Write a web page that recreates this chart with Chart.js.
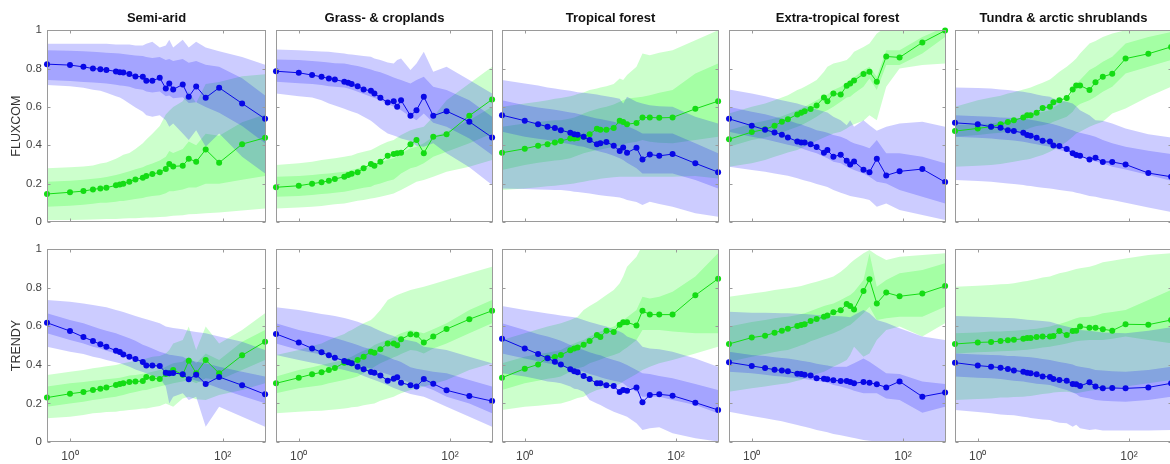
<!DOCTYPE html>
<html><head><meta charset="utf-8">
<script src="https://cdn.jsdelivr.net/npm/chart.js@4.4.1/dist/chart.umd.min.js"></script>
<style>
html,body{margin:0;padding:0;background:#fff;width:1170px;height:464px;overflow:hidden;position:relative}
canvas{position:absolute;display:block}
</style></head><body>
<script>
// ---------- shared axes ----------
const xValues = [0.5,1,1.5,2,2.5,3,4,4.5,5,6,7.2,9,10,12,15,18,20,22.5,30,36,45,60,90,180,360];
const xTickValues = [1,100];
const xTickLabels = ['10⁰','10²'];
const yTickValues = [0,0.2,0.4,0.6,0.8,1];
const yTickLabels = ['0','0.2','0.4','0.6','0.8','1'];
const columnTitles = ['Semi-arid','Grass- & croplands','Tropical forest','Extra-tropical forest','Tundra & arctic shrublands'];
const rowTitles = ['FLUXCOM','TRENDY'];

// ---------- FLUXCOM : Semi-arid ----------
const flux_semi_blue = [0.823,0.818,0.809,0.800,0.797,0.793,0.785,0.781,0.780,0.771,0.759,0.757,0.736,0.736,0.752,0.696,0.722,0.691,0.717,0.653,0.707,0.648,0.700,0.618,0.538];
const flux_semi_green = [0.146,0.155,0.161,0.170,0.175,0.179,0.191,0.196,0.200,0.210,0.222,0.231,0.240,0.250,0.259,0.276,0.302,0.290,0.293,0.330,0.314,0.378,0.309,0.406,0.439];
const flux_semi_blueOutLo = [0.714,0.708,0.700,0.690,0.684,0.674,0.656,0.649,0.639,0.618,0.597,0.575,0.557,0.549,0.557,0.530,0.497,0.514,0.462,0.427,0.479,0.392,0.462,0.340,0.253];
const flux_semi_blueOutHi = [0.930,0.930,0.930,0.930,0.930,0.930,0.925,0.925,0.925,0.925,0.920,0.920,0.930,0.940,0.910,0.920,0.950,0.910,0.950,0.910,0.940,0.910,0.890,0.860,0.820];
const flux_semi_blueInLo = [0.740,0.735,0.730,0.727,0.725,0.722,0.715,0.712,0.710,0.705,0.695,0.690,0.680,0.675,0.680,0.655,0.660,0.645,0.650,0.620,0.625,0.600,0.570,0.500,0.410];
const flux_semi_blueInHi = [0.895,0.893,0.890,0.887,0.885,0.883,0.880,0.878,0.876,0.872,0.868,0.865,0.860,0.855,0.860,0.845,0.850,0.840,0.850,0.830,0.840,0.820,0.810,0.750,0.660];
const flux_semi_greenOutLo = [0.010,0.010,0.012,0.013,0.014,0.015,0.016,0.017,0.018,0.019,0.020,0.022,0.023,0.024,0.026,0.028,0.030,0.032,0.035,0.040,0.042,0.045,0.050,0.060,0.070];
const flux_semi_greenOutHi = [0.280,0.285,0.290,0.295,0.305,0.310,0.330,0.340,0.350,0.360,0.380,0.410,0.430,0.460,0.500,0.560,0.580,0.600,0.630,0.680,0.620,0.720,0.730,0.760,0.770];
const flux_semi_greenInLo = [0.080,0.085,0.090,0.095,0.100,0.100,0.105,0.110,0.110,0.115,0.120,0.125,0.130,0.135,0.140,0.150,0.160,0.160,0.170,0.180,0.180,0.200,0.200,0.220,0.240];
const flux_semi_greenInHi = [0.210,0.215,0.220,0.225,0.230,0.235,0.245,0.250,0.255,0.265,0.275,0.285,0.295,0.305,0.320,0.340,0.370,0.360,0.380,0.420,0.400,0.460,0.450,0.520,0.560];

// ---------- FLUXCOM : Grass- & croplands ----------
const flux_grass_blue = [0.786,0.778,0.766,0.757,0.748,0.743,0.731,0.726,0.719,0.708,0.691,0.684,0.670,0.648,0.623,0.630,0.601,0.635,0.554,0.583,0.653,0.554,0.578,0.523,0.441];
const flux_grass_green = [0.181,0.189,0.200,0.207,0.215,0.224,0.236,0.245,0.252,0.260,0.280,0.302,0.293,0.314,0.345,0.354,0.359,0.361,0.406,0.427,0.359,0.444,0.457,0.554,0.639];
const flux_grass_blueOutLo = [0.670,0.656,0.649,0.635,0.618,0.608,0.590,0.583,0.576,0.566,0.549,0.528,0.514,0.488,0.462,0.451,0.444,0.436,0.422,0.398,0.392,0.410,0.358,0.285,0.193];
const flux_grass_blueOutHi = [0.899,0.896,0.892,0.889,0.887,0.884,0.878,0.875,0.873,0.870,0.865,0.861,0.852,0.844,0.832,0.826,0.844,0.852,0.792,0.826,0.887,0.783,0.809,0.740,0.670];
const flux_grass_blueInLo = [0.731,0.724,0.719,0.714,0.708,0.705,0.701,0.696,0.691,0.679,0.667,0.653,0.646,0.635,0.615,0.601,0.592,0.583,0.549,0.531,0.566,0.517,0.497,0.436,0.349];
const flux_grass_blueInHi = [0.847,0.844,0.840,0.835,0.832,0.828,0.826,0.823,0.819,0.813,0.806,0.795,0.788,0.781,0.766,0.753,0.747,0.740,0.722,0.740,0.757,0.705,0.688,0.635,0.549];
const flux_grass_greenOutLo = [0.071,0.076,0.080,0.083,0.089,0.092,0.097,0.101,0.104,0.111,0.115,0.122,0.125,0.132,0.141,0.149,0.158,0.167,0.193,0.210,0.219,0.236,0.262,0.288,0.323];
const flux_grass_greenOutHi = [0.297,0.306,0.314,0.323,0.328,0.333,0.340,0.344,0.347,0.358,0.366,0.375,0.384,0.401,0.418,0.427,0.441,0.453,0.479,0.488,0.497,0.549,0.635,0.722,0.809];
const flux_grass_greenInLo = [0.132,0.135,0.141,0.146,0.149,0.153,0.158,0.161,0.165,0.172,0.179,0.184,0.193,0.201,0.214,0.222,0.236,0.253,0.280,0.288,0.306,0.340,0.366,0.410,0.462];
const flux_grass_greenInHi = [0.236,0.240,0.245,0.250,0.253,0.257,0.262,0.266,0.271,0.279,0.285,0.288,0.297,0.309,0.326,0.333,0.344,0.358,0.384,0.392,0.410,0.444,0.470,0.531,0.601];

// ---------- FLUXCOM : Tropical forest ----------
const flux_trop_blue = [0.557,0.528,0.510,0.497,0.490,0.479,0.465,0.457,0.455,0.444,0.427,0.406,0.411,0.417,0.398,0.370,0.389,0.361,0.387,0.326,0.352,0.345,0.354,0.306,0.260];
const flux_trop_green = [0.361,0.382,0.398,0.406,0.415,0.422,0.436,0.436,0.438,0.444,0.458,0.486,0.481,0.481,0.490,0.528,0.521,0.510,0.516,0.545,0.545,0.543,0.545,0.590,0.630];
const flux_trop_blueOutLo = [0.175,0.172,0.170,0.168,0.167,0.167,0.161,0.158,0.156,0.153,0.149,0.142,0.139,0.135,0.132,0.128,0.122,0.115,0.104,0.089,0.106,0.094,0.080,0.045,0.028];
const flux_trop_blueOutHi = [0.740,0.722,0.712,0.701,0.696,0.691,0.684,0.681,0.677,0.674,0.670,0.665,0.661,0.656,0.649,0.642,0.618,0.653,0.627,0.618,0.609,0.604,0.601,0.549,0.514];
const flux_trop_blueInLo = [0.470,0.444,0.434,0.427,0.420,0.415,0.406,0.401,0.396,0.392,0.382,0.372,0.366,0.358,0.345,0.332,0.323,0.309,0.280,0.253,0.253,0.253,0.253,0.219,0.175];
const flux_trop_blueInHi = [0.635,0.609,0.597,0.590,0.585,0.580,0.571,0.568,0.564,0.557,0.549,0.540,0.537,0.531,0.523,0.514,0.509,0.500,0.479,0.462,0.462,0.462,0.462,0.410,0.358];
const flux_trop_greenOutLo = [0.167,0.175,0.181,0.186,0.189,0.193,0.198,0.201,0.205,0.210,0.217,0.222,0.226,0.229,0.233,0.236,0.236,0.236,0.236,0.236,0.236,0.236,0.236,0.240,0.227];
const flux_trop_greenOutHi = [0.601,0.618,0.627,0.635,0.642,0.646,0.656,0.661,0.667,0.675,0.688,0.696,0.701,0.708,0.719,0.748,0.740,0.766,0.809,0.878,0.870,0.882,0.896,0.948,1.000];
const flux_trop_greenInLo = [0.271,0.297,0.309,0.316,0.321,0.323,0.333,0.340,0.347,0.358,0.366,0.375,0.378,0.384,0.392,0.399,0.406,0.410,0.418,0.427,0.418,0.413,0.410,0.427,0.444];
const flux_trop_greenInHi = [0.497,0.514,0.521,0.526,0.530,0.531,0.540,0.545,0.552,0.566,0.578,0.589,0.595,0.601,0.613,0.627,0.635,0.644,0.649,0.653,0.661,0.674,0.688,0.774,0.826];

// ---------- FLUXCOM : Extra-tropical forest ----------
const flux_extra_blue = [0.538,0.502,0.481,0.467,0.455,0.441,0.420,0.415,0.415,0.406,0.391,0.361,0.375,0.340,0.351,0.319,0.300,0.316,0.273,0.260,0.330,0.243,0.264,0.276,0.208];
const flux_extra_green = [0.431,0.469,0.483,0.502,0.523,0.536,0.561,0.569,0.578,0.589,0.608,0.649,0.630,0.670,0.665,0.710,0.722,0.738,0.771,0.783,0.731,0.863,0.858,0.936,0.998];
const flux_extra_blueOutLo = [0.288,0.271,0.262,0.253,0.247,0.241,0.228,0.222,0.217,0.208,0.198,0.188,0.182,0.167,0.153,0.142,0.135,0.132,0.123,0.115,0.080,0.097,0.063,0.036,0.010];
const flux_extra_blueOutHi = [0.691,0.670,0.656,0.644,0.635,0.628,0.618,0.611,0.606,0.597,0.587,0.576,0.571,0.549,0.531,0.505,0.531,0.497,0.531,0.505,0.476,0.497,0.514,0.523,0.497];
const flux_extra_blueInLo = [0.470,0.444,0.431,0.420,0.410,0.403,0.392,0.384,0.378,0.368,0.358,0.340,0.332,0.314,0.306,0.288,0.280,0.271,0.253,0.236,0.210,0.201,0.167,0.132,0.097];
const flux_extra_blueInHi = [0.601,0.575,0.562,0.549,0.540,0.531,0.514,0.509,0.502,0.491,0.479,0.470,0.465,0.453,0.444,0.431,0.420,0.410,0.396,0.384,0.427,0.358,0.358,0.340,0.306];
const flux_extra_greenOutLo = [0.288,0.306,0.323,0.340,0.352,0.363,0.375,0.384,0.392,0.406,0.424,0.441,0.448,0.462,0.470,0.488,0.500,0.510,0.528,0.557,0.531,0.705,0.800,0.818,0.826];
const flux_extra_greenOutHi = [0.566,0.601,0.618,0.635,0.649,0.661,0.688,0.696,0.705,0.722,0.740,0.783,0.809,0.826,0.835,0.844,0.861,0.887,0.913,0.931,0.983,1.017,1.035,1.052,1.052];
const flux_extra_greenInLo = [0.392,0.427,0.441,0.453,0.467,0.479,0.497,0.505,0.514,0.531,0.549,0.575,0.583,0.601,0.627,0.649,0.653,0.670,0.705,0.748,0.688,0.818,0.818,0.878,0.965];
const flux_extra_greenInHi = [0.479,0.514,0.528,0.540,0.552,0.563,0.583,0.592,0.601,0.618,0.635,0.656,0.665,0.688,0.705,0.726,0.740,0.753,0.792,0.809,0.757,0.896,0.896,0.965,1.017];

// ---------- FLUXCOM : Tundra & arctic shrublands ----------
const flux_tundra_blue = [0.517,0.509,0.497,0.491,0.479,0.474,0.465,0.453,0.450,0.439,0.424,0.420,0.399,0.396,0.380,0.358,0.349,0.345,0.326,0.335,0.313,0.313,0.300,0.255,0.236];
const flux_tundra_green = [0.474,0.488,0.497,0.510,0.521,0.530,0.545,0.556,0.557,0.569,0.595,0.601,0.625,0.635,0.646,0.691,0.712,0.712,0.688,0.729,0.757,0.773,0.852,0.877,0.913];
const flux_tundra_blueOutLo = [0.219,0.214,0.210,0.205,0.201,0.198,0.193,0.189,0.188,0.182,0.179,0.175,0.172,0.167,0.161,0.158,0.153,0.149,0.135,0.132,0.123,0.115,0.101,0.076,0.052];
const flux_tundra_blueOutHi = [0.701,0.698,0.696,0.691,0.688,0.684,0.679,0.675,0.672,0.665,0.658,0.653,0.644,0.635,0.627,0.618,0.604,0.583,0.557,0.531,0.528,0.514,0.488,0.458,0.441];
const flux_tundra_blueInLo = [0.444,0.439,0.436,0.430,0.427,0.425,0.418,0.415,0.411,0.406,0.399,0.392,0.387,0.375,0.366,0.358,0.349,0.344,0.326,0.316,0.306,0.288,0.274,0.245,0.215];
const flux_tundra_blueInHi = [0.557,0.552,0.549,0.545,0.543,0.542,0.540,0.536,0.533,0.528,0.521,0.514,0.510,0.500,0.488,0.479,0.470,0.465,0.453,0.444,0.427,0.410,0.392,0.372,0.354];
const flux_tundra_greenOutLo = [0.288,0.293,0.297,0.302,0.309,0.314,0.323,0.326,0.330,0.340,0.349,0.366,0.375,0.392,0.418,0.444,0.462,0.470,0.497,0.510,0.523,0.566,0.592,0.653,0.705];
const flux_tundra_greenOutHi = [0.601,0.635,0.649,0.658,0.670,0.677,0.691,0.696,0.701,0.714,0.726,0.743,0.757,0.783,0.809,0.835,0.852,0.878,0.931,0.944,0.965,0.983,1.000,1.003,1.009];
const flux_tundra_greenInLo = [0.444,0.453,0.462,0.465,0.470,0.474,0.479,0.484,0.491,0.500,0.505,0.514,0.523,0.535,0.549,0.575,0.601,0.615,0.635,0.653,0.679,0.705,0.774,0.809,0.844];
const flux_tundra_greenInHi = [0.505,0.510,0.514,0.521,0.526,0.531,0.540,0.545,0.552,0.566,0.575,0.583,0.597,0.615,0.639,0.679,0.722,0.740,0.792,0.809,0.835,0.861,0.931,0.965,0.991];

// ---------- TRENDY : Semi-arid ----------
const trendy_semi_blue = [0.618,0.575,0.544,0.523,0.506,0.494,0.473,0.466,0.454,0.442,0.430,0.415,0.396,0.396,0.394,0.359,0.356,0.358,0.351,0.325,0.349,0.301,0.337,0.294,0.247];
const trendy_semi_green = [0.230,0.250,0.259,0.269,0.276,0.282,0.295,0.301,0.304,0.311,0.313,0.316,0.337,0.330,0.326,0.352,0.356,0.373,0.349,0.421,0.356,0.425,0.356,0.449,0.520];
const trendy_semi_blueOutLo = [0.494,0.468,0.456,0.442,0.434,0.425,0.413,0.408,0.401,0.390,0.376,0.363,0.356,0.342,0.330,0.287,0.200,0.235,0.252,0.218,0.235,0.079,0.183,0.131,0.079];
const trendy_semi_blueOutHi = [0.736,0.727,0.718,0.710,0.703,0.698,0.684,0.679,0.674,0.663,0.653,0.641,0.636,0.627,0.615,0.598,0.594,0.591,0.584,0.577,0.570,0.563,0.546,0.520,0.477];
const trendy_semi_blueInLo = [0.563,0.528,0.511,0.494,0.484,0.473,0.459,0.452,0.447,0.437,0.425,0.411,0.408,0.396,0.382,0.373,0.364,0.359,0.347,0.330,0.318,0.304,0.278,0.238,0.200];
const trendy_semi_blueInHi = [0.667,0.632,0.615,0.598,0.585,0.577,0.563,0.556,0.549,0.537,0.525,0.504,0.497,0.484,0.468,0.459,0.452,0.449,0.442,0.425,0.416,0.408,0.390,0.364,0.339];
const trendy_semi_greenOutLo = [0.123,0.131,0.140,0.149,0.152,0.155,0.157,0.161,0.162,0.166,0.169,0.173,0.174,0.180,0.187,0.200,0.192,0.183,0.226,0.235,0.221,0.218,0.244,0.269,0.304];
const trendy_semi_greenOutHi = [0.347,0.364,0.373,0.382,0.387,0.392,0.399,0.404,0.408,0.415,0.422,0.428,0.432,0.442,0.446,0.459,0.477,0.511,0.528,0.598,0.477,0.598,0.511,0.580,0.667];
const trendy_semi_greenInLo = [0.183,0.200,0.209,0.218,0.223,0.228,0.235,0.240,0.244,0.252,0.259,0.268,0.269,0.278,0.287,0.295,0.299,0.304,0.313,0.321,0.304,0.330,0.321,0.373,0.425];
const trendy_semi_greenInHi = [0.287,0.304,0.311,0.318,0.321,0.325,0.330,0.333,0.337,0.344,0.347,0.354,0.356,0.364,0.373,0.390,0.399,0.408,0.416,0.442,0.408,0.459,0.425,0.520,0.580];

// ---------- TRENDY : Grass- & croplands ----------
const trendy_grass_blue = [0.560,0.515,0.485,0.465,0.449,0.437,0.420,0.413,0.408,0.390,0.377,0.363,0.359,0.345,0.318,0.328,0.335,0.307,0.294,0.288,0.326,0.302,0.268,0.238,0.212];
const trendy_grass_green = [0.304,0.333,0.351,0.361,0.373,0.383,0.411,0.416,0.408,0.425,0.442,0.468,0.463,0.480,0.511,0.511,0.501,0.532,0.558,0.556,0.515,0.546,0.585,0.636,0.680];
const trendy_grass_blueOutLo = [0.451,0.425,0.411,0.401,0.390,0.383,0.373,0.368,0.363,0.356,0.342,0.328,0.321,0.309,0.294,0.280,0.273,0.266,0.249,0.242,0.235,0.214,0.183,0.131,0.079];
const trendy_grass_blueOutHi = [0.698,0.684,0.672,0.663,0.658,0.653,0.642,0.637,0.632,0.623,0.611,0.598,0.589,0.575,0.560,0.549,0.542,0.535,0.525,0.518,0.494,0.487,0.477,0.442,0.408];
const trendy_grass_blueInLo = [0.511,0.477,0.463,0.453,0.442,0.434,0.422,0.415,0.410,0.403,0.390,0.380,0.373,0.363,0.351,0.339,0.330,0.325,0.304,0.297,0.287,0.269,0.235,0.200,0.149];
const trendy_grass_blueInHi = [0.615,0.580,0.566,0.556,0.546,0.539,0.525,0.518,0.513,0.503,0.491,0.480,0.468,0.456,0.442,0.428,0.422,0.415,0.387,0.380,0.373,0.364,0.356,0.321,0.287];
const trendy_grass_greenOutLo = [0.149,0.157,0.161,0.162,0.166,0.168,0.173,0.176,0.180,0.183,0.190,0.197,0.200,0.214,0.226,0.235,0.244,0.252,0.269,0.276,0.287,0.301,0.321,0.373,0.408];
const trendy_grass_greenOutHi = [0.451,0.477,0.497,0.511,0.528,0.542,0.560,0.572,0.580,0.598,0.615,0.632,0.649,0.684,0.736,0.753,0.762,0.770,0.788,0.795,0.805,0.819,0.839,0.874,0.908];
const trendy_grass_greenInLo = [0.252,0.278,0.287,0.294,0.304,0.311,0.321,0.327,0.330,0.339,0.356,0.377,0.390,0.408,0.425,0.439,0.446,0.456,0.477,0.473,0.459,0.485,0.511,0.563,0.615];
const trendy_grass_greenInHi = [0.339,0.373,0.387,0.399,0.408,0.415,0.428,0.435,0.442,0.459,0.473,0.490,0.503,0.515,0.528,0.542,0.554,0.563,0.580,0.572,0.563,0.584,0.615,0.684,0.736];

// ---------- TRENDY : Tropical forest ----------
const trendy_trop_blue = [0.535,0.485,0.456,0.434,0.416,0.401,0.377,0.366,0.361,0.342,0.326,0.304,0.304,0.294,0.290,0.259,0.269,0.266,0.283,0.206,0.244,0.247,0.240,0.204,0.166];
const trendy_trop_green = [0.333,0.380,0.402,0.437,0.440,0.451,0.475,0.485,0.489,0.504,0.523,0.554,0.544,0.577,0.570,0.608,0.620,0.620,0.604,0.680,0.660,0.660,0.660,0.760,0.846];
const trendy_trop_blueOutLo = [0.356,0.339,0.325,0.314,0.309,0.304,0.287,0.276,0.273,0.261,0.218,0.200,0.192,0.175,0.157,0.145,0.138,0.131,0.097,0.062,0.071,0.076,0.045,0.019,0.002];
const trendy_trop_blueOutHi = [0.705,0.684,0.673,0.666,0.661,0.656,0.649,0.646,0.642,0.632,0.622,0.611,0.606,0.598,0.584,0.572,0.563,0.546,0.528,0.494,0.485,0.480,0.468,0.433,0.390];
const trendy_trop_blueInLo = [0.459,0.433,0.418,0.408,0.401,0.394,0.382,0.377,0.373,0.364,0.352,0.342,0.335,0.326,0.318,0.311,0.304,0.287,0.261,0.235,0.235,0.235,0.218,0.192,0.149];
const trendy_trop_blueInHi = [0.615,0.580,0.558,0.546,0.535,0.525,0.503,0.494,0.487,0.477,0.465,0.454,0.449,0.437,0.425,0.416,0.408,0.399,0.373,0.356,0.352,0.342,0.330,0.301,0.269];
const trendy_trop_greenOutLo = [0.166,0.183,0.188,0.193,0.197,0.200,0.214,0.221,0.228,0.235,0.252,0.269,0.273,0.283,0.290,0.301,0.313,0.325,0.352,0.373,0.390,0.408,0.425,0.459,0.494];
const trendy_trop_greenOutHi = [0.528,0.563,0.584,0.598,0.608,0.615,0.632,0.641,0.649,0.684,0.705,0.727,0.739,0.762,0.788,0.822,0.857,0.908,0.960,1.020,1.020,1.020,1.020,1.020,1.020];
const trendy_trop_greenInLo = [0.269,0.304,0.318,0.328,0.333,0.339,0.364,0.373,0.382,0.390,0.408,0.421,0.428,0.439,0.451,0.463,0.477,0.490,0.528,0.580,0.580,0.580,0.572,0.563,0.563];
const trendy_trop_greenInHi = [0.408,0.442,0.456,0.463,0.470,0.477,0.503,0.511,0.518,0.528,0.546,0.563,0.572,0.584,0.598,0.615,0.632,0.646,0.684,0.753,0.744,0.753,0.779,0.857,0.978];

// ---------- TRENDY : Extra-tropical forest ----------
const trendy_extra_blue = [0.413,0.394,0.383,0.375,0.370,0.366,0.354,0.352,0.349,0.344,0.330,0.328,0.325,0.320,0.316,0.316,0.311,0.304,0.311,0.307,0.299,0.283,0.314,0.235,0.257];
const trendy_extra_green = [0.508,0.541,0.551,0.566,0.577,0.587,0.601,0.606,0.610,0.627,0.637,0.649,0.655,0.672,0.682,0.715,0.705,0.687,0.782,0.843,0.718,0.774,0.755,0.769,0.808];
const trendy_extra_blueOutLo = [0.157,0.135,0.123,0.114,0.107,0.100,0.088,0.083,0.079,0.071,0.062,0.054,0.050,0.041,0.035,0.028,0.024,0.021,0.010,0.007,0.003,0.000,0.000,0.000,0.000];
const trendy_extra_blueOutHi = [0.675,0.670,0.670,0.668,0.667,0.667,0.665,0.663,0.663,0.661,0.658,0.656,0.656,0.653,0.651,0.649,0.646,0.658,0.684,0.667,0.632,0.618,0.589,0.546,0.528];
const trendy_extra_blueInLo = [0.364,0.356,0.349,0.342,0.339,0.335,0.332,0.328,0.327,0.321,0.318,0.311,0.308,0.295,0.287,0.278,0.273,0.266,0.252,0.252,0.252,0.226,0.218,0.152,0.183];
const trendy_extra_blueInHi = [0.468,0.451,0.446,0.439,0.435,0.432,0.425,0.421,0.418,0.413,0.406,0.399,0.397,0.390,0.390,0.390,0.399,0.408,0.433,0.416,0.390,0.356,0.352,0.313,0.301];
const trendy_extra_greenOutLo = [0.261,0.278,0.287,0.295,0.301,0.304,0.318,0.321,0.330,0.339,0.352,0.364,0.373,0.390,0.408,0.425,0.451,0.494,0.442,0.459,0.528,0.580,0.598,0.546,0.615];
const trendy_extra_greenOutHi = [0.753,0.770,0.779,0.788,0.793,0.796,0.805,0.808,0.813,0.822,0.830,0.842,0.847,0.857,0.882,0.908,0.926,0.943,0.978,0.995,0.969,0.943,0.960,0.969,0.978];
const trendy_extra_greenInLo = [0.416,0.442,0.456,0.466,0.473,0.477,0.494,0.501,0.506,0.522,0.532,0.546,0.553,0.563,0.580,0.598,0.606,0.623,0.667,0.701,0.632,0.641,0.649,0.649,0.701];
const trendy_extra_greenInHi = [0.598,0.622,0.632,0.641,0.646,0.649,0.658,0.663,0.667,0.679,0.691,0.705,0.710,0.718,0.736,0.753,0.762,0.779,0.839,0.978,0.805,0.839,0.874,0.891,0.926];

// ---------- TRENDY : Tundra & arctic shrublands ----------
const trendy_tundra_blue = [0.411,0.396,0.390,0.385,0.378,0.371,0.364,0.359,0.356,0.351,0.340,0.337,0.326,0.321,0.318,0.301,0.299,0.290,0.309,0.287,0.278,0.280,0.278,0.283,0.304];
const trendy_tundra_green = [0.508,0.516,0.518,0.523,0.527,0.530,0.535,0.539,0.539,0.544,0.546,0.547,0.549,0.575,0.554,0.575,0.577,0.598,0.592,0.592,0.584,0.577,0.610,0.608,0.632];
const trendy_tundra_blueOutLo = [0.166,0.155,0.149,0.143,0.140,0.138,0.131,0.128,0.124,0.121,0.117,0.114,0.107,0.100,0.097,0.079,0.090,0.071,0.062,0.066,0.059,0.059,0.059,0.059,0.062];
const trendy_tundra_blueOutHi = [0.653,0.649,0.646,0.644,0.642,0.641,0.636,0.634,0.632,0.629,0.627,0.623,0.618,0.608,0.598,0.591,0.585,0.580,0.577,0.572,0.568,0.566,0.563,0.577,0.594];
const trendy_tundra_blueInLo = [0.339,0.333,0.330,0.326,0.321,0.318,0.313,0.309,0.307,0.302,0.299,0.295,0.290,0.280,0.269,0.256,0.249,0.235,0.226,0.218,0.214,0.211,0.209,0.218,0.235];
const trendy_tundra_blueInHi = [0.459,0.454,0.451,0.449,0.446,0.446,0.442,0.440,0.439,0.435,0.430,0.425,0.421,0.414,0.408,0.401,0.394,0.390,0.382,0.373,0.370,0.366,0.364,0.373,0.390];
const trendy_tundra_greenOutLo = [0.218,0.223,0.226,0.230,0.231,0.233,0.235,0.237,0.238,0.244,0.249,0.252,0.256,0.259,0.261,0.256,0.252,0.256,0.266,0.269,0.273,0.278,0.287,0.304,0.321];
const trendy_tundra_greenOutHi = [0.805,0.810,0.813,0.817,0.819,0.822,0.831,0.834,0.838,0.845,0.852,0.857,0.864,0.874,0.882,0.891,0.896,0.900,0.908,0.917,0.931,0.939,0.951,0.969,0.978];
const trendy_tundra_greenInLo = [0.459,0.465,0.468,0.470,0.472,0.473,0.477,0.478,0.480,0.484,0.489,0.494,0.497,0.503,0.511,0.518,0.522,0.525,0.528,0.528,0.528,0.535,0.546,0.528,0.511];
const trendy_tundra_greenInHi = [0.563,0.568,0.572,0.573,0.575,0.577,0.580,0.582,0.584,0.587,0.592,0.598,0.603,0.611,0.623,0.635,0.641,0.646,0.649,0.656,0.667,0.674,0.684,0.736,0.788];

// ---------- panel table built from the arrays ----------
const panels = [
  [flux_semi_blue,flux_semi_green,flux_semi_blueOutLo,flux_semi_blueOutHi,flux_semi_blueInLo,flux_semi_blueInHi,flux_semi_greenOutLo,flux_semi_greenOutHi,flux_semi_greenInLo,flux_semi_greenInHi],
  [flux_grass_blue,flux_grass_green,flux_grass_blueOutLo,flux_grass_blueOutHi,flux_grass_blueInLo,flux_grass_blueInHi,flux_grass_greenOutLo,flux_grass_greenOutHi,flux_grass_greenInLo,flux_grass_greenInHi],
  [flux_trop_blue,flux_trop_green,flux_trop_blueOutLo,flux_trop_blueOutHi,flux_trop_blueInLo,flux_trop_blueInHi,flux_trop_greenOutLo,flux_trop_greenOutHi,flux_trop_greenInLo,flux_trop_greenInHi],
  [flux_extra_blue,flux_extra_green,flux_extra_blueOutLo,flux_extra_blueOutHi,flux_extra_blueInLo,flux_extra_blueInHi,flux_extra_greenOutLo,flux_extra_greenOutHi,flux_extra_greenInLo,flux_extra_greenInHi],
  [flux_tundra_blue,flux_tundra_green,flux_tundra_blueOutLo,flux_tundra_blueOutHi,flux_tundra_blueInLo,flux_tundra_blueInHi,flux_tundra_greenOutLo,flux_tundra_greenOutHi,flux_tundra_greenInLo,flux_tundra_greenInHi],
  [trendy_semi_blue,trendy_semi_green,trendy_semi_blueOutLo,trendy_semi_blueOutHi,trendy_semi_blueInLo,trendy_semi_blueInHi,trendy_semi_greenOutLo,trendy_semi_greenOutHi,trendy_semi_greenInLo,trendy_semi_greenInHi],
  [trendy_grass_blue,trendy_grass_green,trendy_grass_blueOutLo,trendy_grass_blueOutHi,trendy_grass_blueInLo,trendy_grass_blueInHi,trendy_grass_greenOutLo,trendy_grass_greenOutHi,trendy_grass_greenInLo,trendy_grass_greenInHi],
  [trendy_trop_blue,trendy_trop_green,trendy_trop_blueOutLo,trendy_trop_blueOutHi,trendy_trop_blueInLo,trendy_trop_blueInHi,trendy_trop_greenOutLo,trendy_trop_greenOutHi,trendy_trop_greenInLo,trendy_trop_greenInHi],
  [trendy_extra_blue,trendy_extra_green,trendy_extra_blueOutLo,trendy_extra_blueOutHi,trendy_extra_blueInLo,trendy_extra_blueInHi,trendy_extra_greenOutLo,trendy_extra_greenOutHi,trendy_extra_greenInLo,trendy_extra_greenInHi],
  [trendy_tundra_blue,trendy_tundra_green,trendy_tundra_blueOutLo,trendy_tundra_blueOutHi,trendy_tundra_blueInLo,trendy_tundra_blueInHi,trendy_tundra_greenOutLo,trendy_tundra_greenOutHi,trendy_tundra_greenInLo,trendy_tundra_greenInHi]
];

// ---------- styling / layout ----------
const FONT = "'Liberation Sans', Arial, Helvetica, sans-serif";
Chart.defaults.font.family = FONT;
const BLUE = '#0808e6', GREEN = '#14dc14';
const BLUE_FILL = 'rgba(0,0,255,0.2)', GREEN_FILL = 'rgba(0,255,0,0.2)';
const panelLefts = [47,274,500,727,953];
const PW = 221;

const boxPlugin = {
  id: 'panelBox',
  afterDraw(chart) {
    const {ctx, chartArea: a, scales} = chart;
    ctx.save();
    ctx.strokeStyle = '#9a9a9a';
    ctx.lineWidth = 1;
    const L = Math.round(a.left) + 0.5, R = Math.round(a.right) - 0.5;
    const T = Math.round(a.top) + 0.5, B = Math.round(a.bottom) - 0.5;
    ctx.strokeRect(L, T, R - L, B - T);
    ctx.beginPath();
    yTickValues.forEach(v => {
      const y = Math.round(scales.y.getPixelForValue(v)) + 0.5;
      ctx.moveTo(L, y); ctx.lineTo(L + 3, y);
      ctx.moveTo(R, y); ctx.lineTo(R - 3, y);
    });
    xTickValues.forEach(v => {
      const x = Math.round(scales.x.getPixelForValue(v)) + 0.5;
      ctx.moveTo(x, T); ctx.lineTo(x, T + 3);
      ctx.moveTo(x, B); ctx.lineTo(x, B - 3);
    });
    ctx.stroke();
    ctx.restore();
  }
};

function pts(arr) { return arr.map((v, i) => ({x: xValues[i], y: v})); }

function band(arr, color, target) {
  return {data: pts(arr), borderWidth: 0, pointRadius: 0, borderColor: 'rgba(0,0,0,0)',
          backgroundColor: color, fill: target, tension: 0};
}
function lo(arr) {
  return {data: pts(arr), borderWidth: 0, pointRadius: 0, borderColor: 'rgba(0,0,0,0)', fill: false};
}
function mean(arr, color) {
  return {data: pts(arr), borderColor: color, backgroundColor: color, borderWidth: 1,
          pointRadius: 3, pointBorderWidth: 0, pointBackgroundColor: color, fill: false,
          tension: 0, clip: 6};
}

for (let row = 0; row < 2; row++) {
  for (let col = 0; col < 5; col++) {
    const p = panels[row * 5 + col];
    const padL = col === 0 ? 47 : 2, padR = 2;
    const cv = document.createElement('canvas');
    const W = padL + PW + padR, H = 234;
    cv.width = W; cv.height = H;
    cv.style.width = W + 'px'; cv.style.height = H + 'px';
    cv.style.left = (panelLefts[col] - padL) + 'px';
    cv.style.top = (row === 0 ? 0 : 230) + 'px';
    document.body.appendChild(cv);

    const datasets = [
      mean(p[0], BLUE),            // 0
      mean(p[1], GREEN),           // 1
      lo(p[2]),                    // 2 blue outer low
      band(p[3], BLUE_FILL, 2),    // 3 blue outer high
      lo(p[4]),                    // 4 blue inner low
      band(p[5], BLUE_FILL, 4),    // 5 blue inner high
      lo(p[6]),                    // 6 green outer low
      band(p[7], GREEN_FILL, 6),   // 7 green outer high
      lo(p[8]),                    // 8 green inner low
      band(p[9], GREEN_FILL, 8)    // 9 green inner high
    ];

    const showX = row === 1, showY = col === 0;
    new Chart(cv, {
      type: 'line',
      data: {datasets},
      plugins: [boxPlugin],
      options: {
        responsive: false, animation: false, devicePixelRatio: 1, events: [],
        layout: {padding: {left: showY ? 0 : 2, right: padR, top: row === 0 ? 0 : 19, bottom: row === 0 ? 12 : 0}},
        plugins: {
          legend: {display: false}, tooltip: {enabled: false},
          title: {display: row === 0, text: columnTitles[col], fullSize: false,
                  font: {size: 13, weight: 'bold', family: FONT}, color: '#111',
                  padding: {top: 11, bottom: 3.6}}
        },
        scales: {
          x: {
            type: 'logarithmic', min: 0.5, max: 370, display: showX,
            afterBuildTicks: s => { s.ticks = xTickValues.map(v => ({value: v})); },
            afterFit: s => { if (showX) s.height = 22; },
            ticks: {callback: v => xTickLabels[xTickValues.indexOf(v)], padding: 7, color: '#444',
                    font: {size: 12}, maxRotation: 0, autoSkip: false},
            grid: {display: false, drawTicks: false}, border: {display: false}
          },
          y: {
            type: 'linear', min: 0, max: 1, display: showY,
            afterBuildTicks: s => { s.ticks = yTickValues.map(v => ({value: v})); },
            afterFit: s => { if (showY) s.width = 47; },
            ticks: {callback: v => yTickLabels[yTickValues.indexOf(v)], padding: 5, color: '#444',
                    font: {size: 11.5}},
            grid: {display: false, drawTicks: false}, border: {display: false},
            title: {display: true, text: rowTitles[row], padding: {top: 9, bottom: 0},
                    font: {size: 12.5}, color: '#333'}
          }
        }
      }
    });
  }
}
</script>
</body></html>
